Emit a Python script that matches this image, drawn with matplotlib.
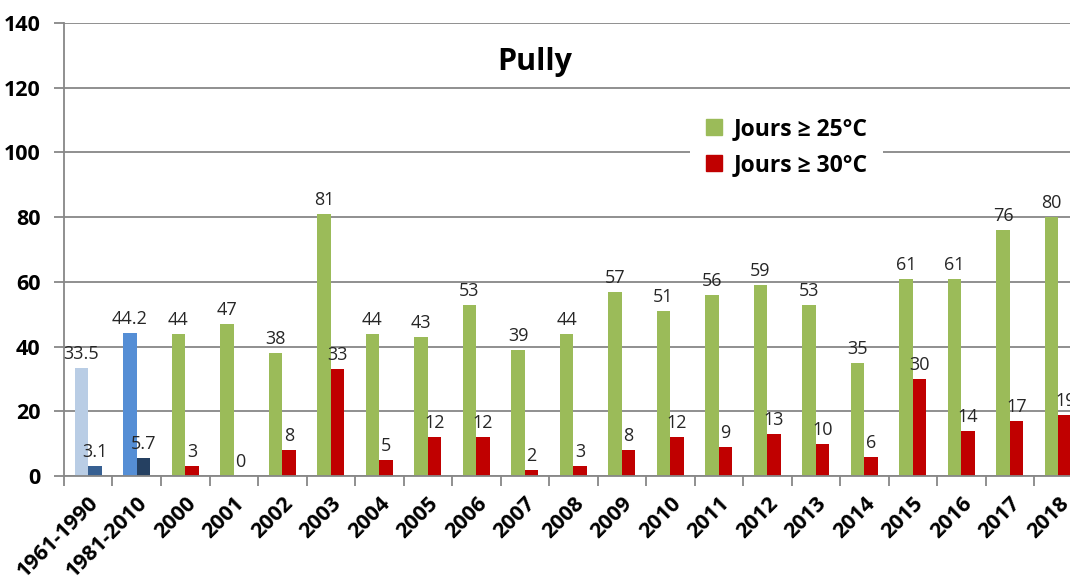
import numpy as np
import matplotlib.pyplot as plt
from matplotlib.patches import Patch

categories = ['1961-1990', '1981-2010'] + [str(y) for y in range(2000, 2019)]
jours_25 = [33.5, 44.2, 44, 47, 38, 81, 44, 43, 53, 39, 44, 57, 51, 56, 59, 53, 35, 61, 61, 76, 80]
jours_30 = [3.1, 5.7, 3, 0, 8, 33, 5, 12, 12, 2, 3, 8, 12, 9, 13, 10, 6, 30, 14, 17, 19]
labels_25 = ['33.5', '44.2'] + [str(v) for v in jours_25[2:]]
labels_30 = ['3.1', '5.7'] + [str(v) for v in jours_30[2:]]

green = '#9BBB59'
red = '#C00000'
colors_25 = ['#B9CDE5', '#558ED5'] + [green] * 19
colors_30 = ['#376092', '#254061'] + [red] * 19

plt.rcParams['font.family'] = ['Open Sans', 'DejaVu Sans']

fig = plt.figure(figsize=(10.7, 5.77), dpi=100)
ax = fig.add_axes([0.0598, 0.175, 0.952, 0.785])

x = np.arange(len(categories))
w = 0.28
b1 = ax.bar(x - w / 2, jours_25, w, color=colors_25, zorder=2)
b2 = ax.bar(x + w / 2, jours_30, w, color=colors_30, zorder=2)

for rect, lab in zip(b1, labels_25):
    ax.text(rect.get_x() + rect.get_width() / 2, rect.get_height() + 1.5, lab,
            ha='center', va='bottom', fontsize=13, color='#262626', zorder=3)
for rect, lab in zip(b2, labels_30):
    ax.text(rect.get_x() + rect.get_width() / 2, rect.get_height() + 1.5, lab,
            ha='center', va='bottom', fontsize=13, color='#262626', zorder=3)

ax.set_xlim(-0.5, len(categories) - 0.5)
ax.set_ylim(0, 140)
ax.set_yticks(range(0, 141, 20))
ax.yaxis.grid(True, color='#878787', linewidth=1.3, zorder=0)
ax.set_axisbelow(True)

ax.set_xticks(x)
ax.set_xticklabels(categories, rotation=45, ha='right', rotation_mode='anchor',
                   fontsize=15.5, fontweight='bold')
ax.set_xticks(np.arange(-0.5, len(categories), 1), minor=True)
ax.tick_params(axis='x', which='major', length=0, pad=12)
ax.tick_params(axis='x', which='minor', length=7, color='#878787', width=1.3)
ax.tick_params(axis='y', length=7, color='#878787', width=1.3, pad=10,
               labelsize=15.5)
for t in ax.get_yticklabels():
    t.set_fontweight('bold')

for s in ['top', 'right']:
    ax.spines[s].set_visible(False)
for s in ['left', 'bottom']:
    ax.spines[s].set_color('#878787')
    ax.spines[s].set_linewidth(1.3)

fig.text(0.5, 0.893, 'Pully', ha='center', va='center', fontsize=22, fontweight='bold')

handles = [Patch(color=green, label='Jours ≥ 25°C'), Patch(color=red, label='Jours ≥ 30°C')]
leg = fig.legend(handles=handles, loc='center', bbox_to_anchor=(0.735, 0.745),
                 frameon=True, facecolor='white', edgecolor='none', framealpha=1,
                 handlelength=0.7, handleheight=0.7, handletextpad=0.5,
                 labelspacing=0.5, borderpad=0.7,
                 prop={'size': 16.5, 'weight': 'bold'})
leg.set_zorder(5)

fig.savefig('out.png', dpi=100)
